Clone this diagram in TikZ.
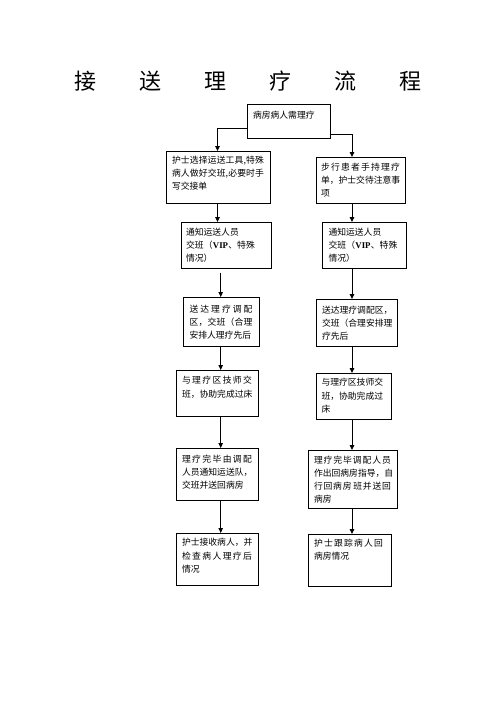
\documentclass[tikz,border=0pt]{standalone}
\usepackage{fontspec}
\setmainfont{Noto Sans CJK SC}
\newfontfamily\latserif{Liberation Serif}
\usetikzlibrary{arrows.meta}
\def\spreadEnd{}
\def\spreadA#1#2{#1\ifx#2\spreadEnd\else\hfill\expandafter\spreadA\expandafter#2\fi}
\newcommand\jl[2][\linewidth]{\hbox to #1{\spreadA#2\spreadEnd}}
\newcommand\bx[4]{\parbox[c][#2pt][t]{#1pt}{\vspace*{#3pt}#4}}
\tikzset{
  fbox/.style={draw, line width=0.9pt, inner xsep=6pt, inner ysep=0pt, outer sep=0pt,
    anchor=north west, font=\fontsize{8.8}{13.3}\selectfont},
  arr/.style={line width=0.9pt, -{Triangle[length=5pt,width=4.5pt]}}
}
\begin{document}
\begin{tikzpicture}[x=1pt,y=1pt]
\fill[white] (0,0) rectangle (496,-702);
\useasboundingbox (0,0) rectangle (496,-702);

\node (title) at (248.3,-80.7) {\fontsize{22}{22}\selectfont\jl[346.7pt]{接送理疗流程}};

\node[fbox] (T) at (247,-104) {\bx{71}{34}{6.6}{病房病人需理疗}};

\node[fbox] (L2) at (166,-151) {\bx{92}{52}{4.6}{\jl{护士选择运送工具,特殊}\jl{病人做好交班,必要时手}写交接单}};
\node[fbox, inner xsep=5pt] (R2) at (316,-157) {\bx{79}{46}{5.6}{\jl{步行患者手持理疗}\jl{单，护士交待注意事}项}};

\node[fbox, inner xsep=5pt] (L3) at (181,-222) {\bx{80}{46}{5.6}{通知运送人员\par\hbox to 69pt{交\hfill 班\hfill（\hfill{\latserif\bfseries VIP}\hfill 、\hfill 特\hfill 殊}情况）}};
\node[fbox, inner xsep=6.5pt] (R3) at (322,-222) {\bx{71}{46}{5.6}{通知运送人员\par\hbox to 69pt{交\hfill 班\hfill（\hfill{\latserif\bfseries VIP}\hfill 、\hfill 特\hfill 殊}情况）}};

\node[fbox, inner xsep=6.5pt] (L4) at (183,-297) {\bx{63}{49}{7.6}{\jl{送达理疗调配}\jl{区，交班（合理}安排人理疗先后}};
\node[fbox] (R4) at (316,-299) {\bx{69}{47}{6.6}{送达理疗调配区，\par 交班（合理安排理\par 疗先后}};

\node[fbox] (L5) at (176,-370) {\bx{70}{46}{6.3}{\jl{与理疗区技师交}班，协助完成过床}};
\node[fbox, inner xsep=5.5pt] (R5) at (316,-373) {\bx{64}{46}{5.3}{与理疗区技师交\par 班，协助完成过\par 床}};

\node[fbox] (L6) at (176,-448) {\bx{70}{52}{6.6}{\jl{理疗完毕由调配}人员通知运送队，\par 交班并送回病房}};
\node[fbox] (R6) at (308,-450) {\bx{77}{58}{5.6}{\jl{理疗完毕调配人员}作出回病房指导，自\par\hbox to\linewidth{行\hfill 回\hfill 病\hfill 房\hfill\hfill 班\hfill 并\hfill 送\hfill 回}病房}};

\node[fbox] (L7) at (176,-533) {\bx{70}{52}{5.3}{\jl{护士接收病人，并}\jl{检查病人理疗后}情况}};
\node[fbox] (R7) at (308,-534) {\bx{71}{52}{4.9}{\jl[69pt]{护士跟踪病人回}病房情况}};

\coordinate (lxa) at (217.5,0);
\coordinate (lxb) at (220.7,0);
\coordinate (rx) at (352,0);

\draw[arr] ([yshift=-24pt]T.north west) -| (L2.north -| lxa);
\draw[arr] ([yshift=-30pt]T.north east) -| (R2.north -| rx);

\draw[arr] (L2.south -| lxa) -- (L3.north -| lxa);
\draw[arr, shorten <=4.5pt] (L3.south -| lxb) -- (L4.north -| lxb);
\draw[arr] (L4.south -| lxb) -- (L5.north -| lxb);
\draw[arr] (L5.south -| lxb) -- (L6.north -| lxb);
\draw[arr] (L6.south -| lxb) -- (L7.north -| lxb);

\draw[arr] (R2.south -| rx) -- (R3.north -| rx);
\draw[arr] (R3.south -| rx) -- (R4.north -| rx);
\draw[arr] (R4.south -| rx) -- (R5.north -| rx);
\draw[arr] (R5.south -| rx) -- (R6.north -| rx);
\draw[arr] (R6.south -| rx) -- (R7.north -| rx);
\end{tikzpicture}
\end{document}
